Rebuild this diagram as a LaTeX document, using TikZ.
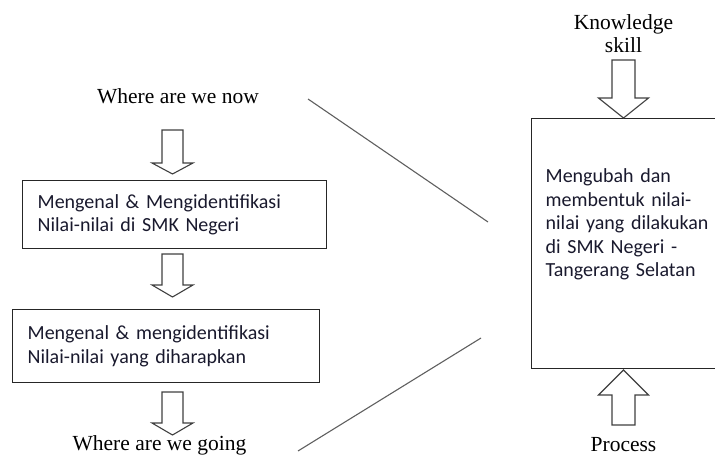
\documentclass[tikz,border=0pt]{standalone}
\usepackage{fontspec}
\setmainfont{Liberation Serif}
\newfontfamily\boxfont{Carlito}
\definecolor{boxink}{RGB}{25,25,45}
\definecolor{linkgray}{RGB}{95,95,95}
\tikzset{
  stagetext/.style={font=\fontsize{21.5}{22.5}\selectfont, inner sep=0pt, align=center},
  stagebox/.style={draw=black!85, line width=1.3pt, align=left, inner xsep=15pt,
    font=\boxfont\fontsize{20}{23.5}\selectfont, text=boxink},
  linkline/.style={draw=linkgray, line width=1.1pt},
  pics/blockarrow/.style args={#1/#2/#3/#4}{code={
    \draw[draw=black!75, line width=1.1pt, fill=white, line join=miter]
      (-#1,0) -- (#1,0) -- (#1,#3) -- (#2,#3) -- (0,#4) -- (-#2,#3) -- (-#1,#3) -- cycle;
  }}
}
\begin{document}
\begin{tikzpicture}[x=1pt,y=-1pt]
 \clip (0,0) rectangle (715,455);
 % left column
 \node[stagetext, anchor=base] (now) at (178,103) {Where are we now};
 \node[stagebox, anchor=north west, text width=274pt, minimum height=68pt] (known) at (22,180)
   {Mengenal \& Mengidentifikasi\\Nilai-nilai di SMK Negeri};
 \node[stagebox, anchor=north west, text width=277pt, minimum height=73pt] (hoped) at (12,309)
   {Mengenal \& mengidentifikasi\\Nilai-nilai yang diharapkan};
 \node[stagetext, anchor=base] (going) at (159.5,450.5) {Where are we going};
 \pic at (172.5,130) {blockarrow=10.5/20.5/33/44};
 \pic at (172.5,254) {blockarrow=10.5/20.5/31/43};
 \pic at (172.5,392) {blockarrow=10.5/20.5/31/43};
 % right column
 \node[stagebox, anchor=north west, text width=190pt, minimum height=250pt, inner xsep=14pt, text depth=136pt] (change) at (531,118)
   {Mengubah dan\\membentuk nilai-\\nilai yang dilakukan\\di SMK Negeri -\\Tangerang Selatan};
 \node[stagetext, anchor=base] (skill) at (623.5,52) {Knowledge\\skill};
 \node[stagetext, anchor=base] (process) at (623.5,451) {Process};
 \pic at (623.5,60) {blockarrow=11.5/25/38/58};
 \pic[rotate=180] at (623.5,425) {blockarrow=11.5/25/30/55};
 % links into the process box
 \coordinate (nowend) at (308,99);
 \coordinate (goingend) at (298,451);
 \coordinate (changein) at (488,222);
 \coordinate (changeout) at (481,338);
 \draw[linkline] (nowend) -- (changein);
 \draw[linkline] (goingend) -- (changeout);
\end{tikzpicture}
\end{document}
